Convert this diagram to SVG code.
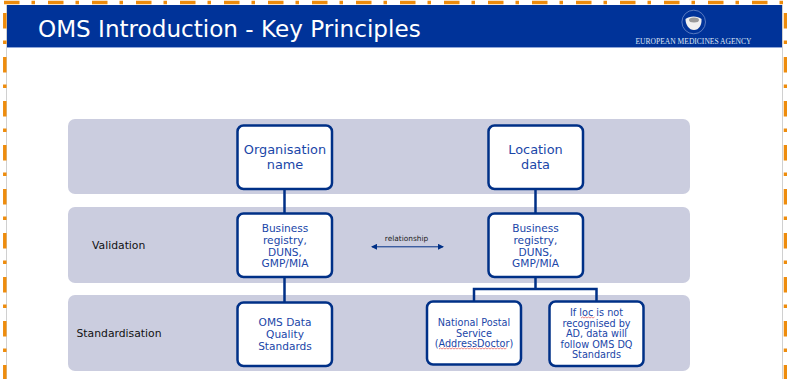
<svg xmlns="http://www.w3.org/2000/svg" width="787" height="379" viewBox="0 0 787 379">
<style>
.band{fill:#cbcddf}
.box{fill:#fff;stroke:#003087;stroke-width:2.5}
.t{font-family:"DejaVu Sans",Verdana,sans-serif;fill:#1a46a8;text-anchor:middle}
.l{font-family:"DejaVu Sans",Verdana,sans-serif;fill:#111;font-size:10.800px}
.c{fill:none;stroke:#003087;stroke-width:2.5}
.dash{fill:none;stroke:#ee8c0c;stroke-width:3.5;stroke-dasharray:15.5 12 3.5 13}
.sq{fill:none;stroke:#e25555;stroke-width:.7}
</style>
<defs>
<marker id="ah" markerWidth="6" markerHeight="6" refX="5" refY="3" orient="auto-start-reverse" markerUnits="userSpaceOnUse"><path d="M0 0L6 3L0 6z" fill="#003087"/></marker>
</defs>
<rect width="787" height="379" fill="#fff"/>
<g id="frame">
<path d="M6.500 5V379M782.500 5V379" stroke="#d0d0d0" stroke-width="1" fill="none"/>
<path class="dash" d="M4 2.500H787"/>
<path class="dash" d="M4.800 13V379"/>
<path class="dash" d="M785.500 13V379"/>
</g>
<g id="header">
<rect x="7" y="5" width="775" height="42" fill="#003399"/>
<rect x="7" y="47" width="775" height="1" fill="#8fa6d8"/>
<text x="38" y="37" font-family="DejaVu Sans,Verdana,sans-serif" font-size="23.100" fill="#fff">OMS Introduction - Key Principles</text>
<circle cx="693.700" cy="22" r="11.800" fill="none" stroke="#6f8cc9" stroke-width=".8"/>
<path d="M685.500 19C689 15.500 698 15.500 701.500 19C702 25 699 30 694 30C689 30 685.500 25 685.500 19z" fill="#f0f0f0"/>
<ellipse cx="694" cy="20" rx="5" ry="2.500" fill="#9a9a9a"/>
<text x="693.500" y="43.500" font-family="Liberation Serif,serif" font-size="8.600" fill="#dfe6f5" text-anchor="middle" textLength="116" lengthAdjust="spacingAndGlyphs">EUROPEAN MEDICINES AGENCY</text>
</g>
<g id="bands">
<rect class="band" x="68" y="119" width="622" height="75" rx="7"/>
<rect class="band" x="68" y="207" width="622" height="76" rx="7"/>
<rect class="band" x="68" y="295" width="622" height="76" rx="7"/>
<text class="l" x="92" y="249">Validation</text>
<text class="l" x="76.500" y="337">Standardisation</text>
</g>
<g id="connectors">
<path class="c" d="M284.500 189V213M284.500 277V302M535.500 189V213M535.500 277V289H474V301M535.500 289H596.500V301"/>
<path d="M372 246.800H443" fill="none" stroke="#003087" stroke-width="1" marker-start="url(#ah)" marker-end="url(#ah)"/>
<text x="406.500" y="241" font-family="DejaVu Sans,Verdana,sans-serif" font-size="7.400" fill="#222" text-anchor="middle">relationship</text>
</g>
<g id="n-org"><rect class="box" x="237.500" y="125.500" width="94.500" height="63.500" rx="6"/>
<text class="t" font-size="12.900"><tspan x="285" y="154">Organisation</tspan><tspan x="285" y="168.500">name</tspan></text></g>
<g id="n-loc"><rect class="box" x="488.500" y="125.500" width="94.500" height="63.500" rx="6"/>
<text class="t" font-size="12.900"><tspan x="535.500" y="154">Location</tspan><tspan x="535.500" y="168.500">data</tspan></text></g>
<g id="n-val1"><rect class="box" x="237.500" y="213.500" width="94.500" height="63.500" rx="6"/>
<text class="t" font-size="10.600"><tspan x="285" y="232">Business</tspan><tspan x="285" y="244">registry,</tspan><tspan x="285" y="255.500">DUNS,</tspan><tspan x="285" y="267">GMP/MIA</tspan></text></g>
<g id="n-val2"><rect class="box" x="488.500" y="213.500" width="94.500" height="63.500" rx="6"/>
<text class="t" font-size="10.600"><tspan x="535.500" y="232">Business</tspan><tspan x="535.500" y="244">registry,</tspan><tspan x="535.500" y="255.500">DUNS,</tspan><tspan x="535.500" y="267">GMP/MIA</tspan></text></g>
<g id="n-dq"><rect class="box" x="237.500" y="302.500" width="94.500" height="63.500" rx="6"/>
<text class="t" font-size="10.600"><tspan x="285" y="326">OMS Data</tspan><tspan x="285" y="338">Quality</tspan><tspan x="285" y="350">Standards</tspan></text></g>
<g id="n-post"><rect class="box" x="427" y="301.500" width="94" height="63" rx="6"/>
<text class="t" font-size="9.700"><tspan x="474" y="326">National Postal</tspan><tspan x="474" y="336.500">Service</tspan><tspan x="474" y="347">(AddressDoctor)</tspan></text>
<path class="sq" d="M439 349l1.500-1 1.500 1 1.500-1 1.500 1 1.500-1 1.500 1 1.500-1 1.500 1 1.500-1 1.500 1 1.500-1 1.500 1 1.500-1 1.500 1 1.500-1 1.500 1 1.500-1 1.500 1 1.500-1 1.500 1 1.500-1 1.500 1 1.500-1 1.500 1 1.500-1 1.500 1 1.500-1 1.500 1 1.500-1 1.500 1 1.500-1 1.500 1 1.500-1 1.500 1 1.500-1 1.500 1 1.500-1 1.500 1 1.500-1 1.500 1 1.500-1 1.500 1 1.500-1 1.500 1 1.500-1"/></g>
<g id="n-ifloc"><rect class="box" x="549.500" y="301.500" width="94" height="64.500" rx="6"/>
<text class="t" font-size="9.700"><tspan x="596.500" y="316">If loc is not</tspan><tspan x="596.500" y="326.500">recognised by</tspan><tspan x="596.500" y="337">AD, data will</tspan><tspan x="596.500" y="347.500">follow OMS DQ</tspan><tspan x="596.500" y="358">Standards</tspan></text>
<path class="sq" d="M581 318l1.500-1 1.500 1 1.500-1 1.500 1 1.500-1 1.500 1 1.500-1 1.500 1 1.500-1"/></g>
</svg>
